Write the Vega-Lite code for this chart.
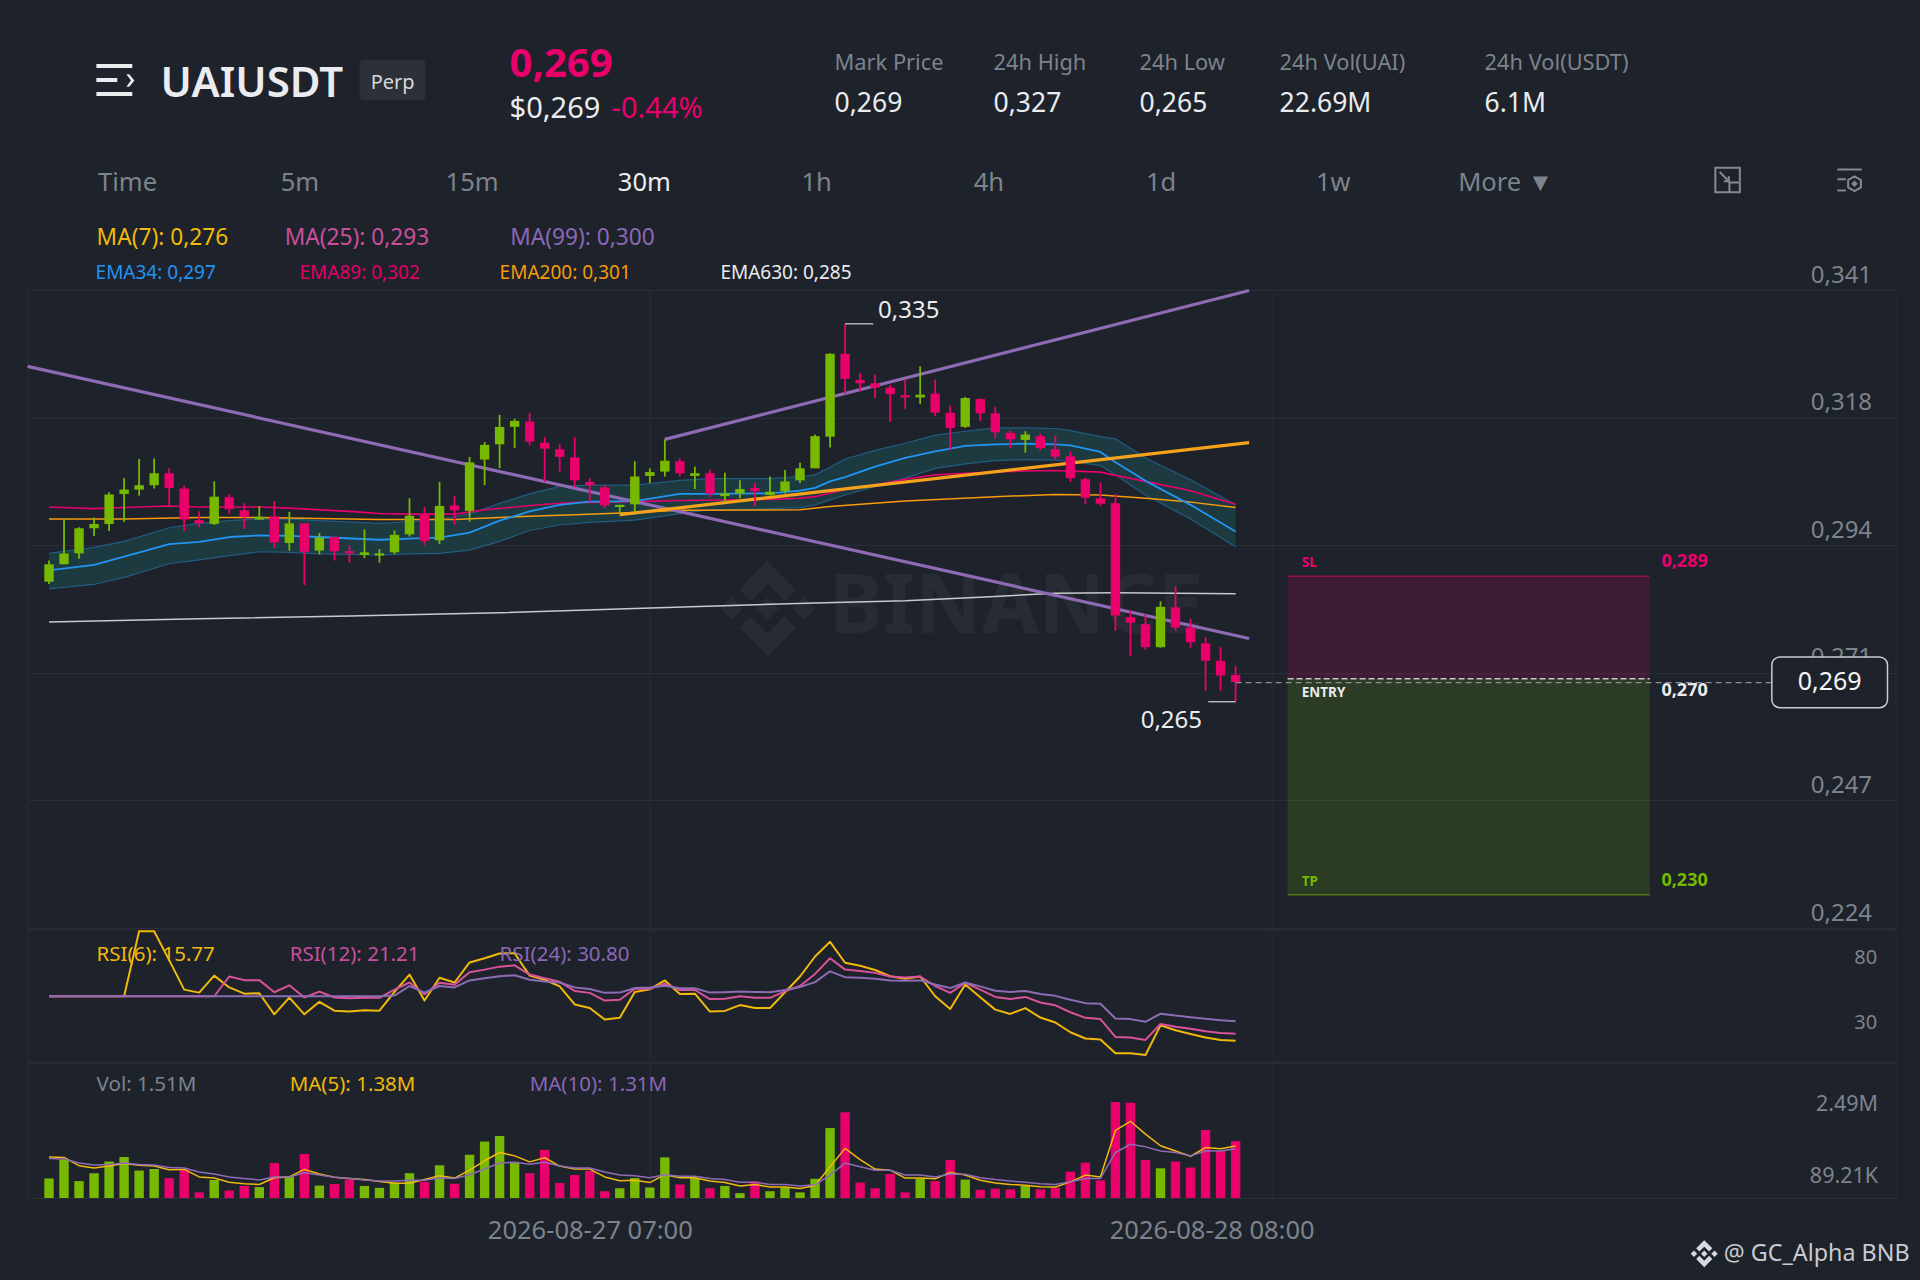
{
  "$schema": "https://vega.github.io/schema/vega-lite/v6.json",
  "background": "#1e222b",
  "padding": {"left": 24.6, "top": 0, "right": 27.4, "bottom": 28},
  "config": {
    "font": "Noto Sans",
    "view": {"stroke": null},
    "scale": {"pointPadding": 0},
    "line": {"strokeJoin": "round"}
  },
  "datasets": {
    "bars": [
      {"i":0,"open":0.2875,"high":0.2914,"low":0.2871,"close":0.2907,"vol":0.52,"ma5":1.09,"ma10":1.05,"rsi6":50,"rsi12":50,"rsi24":50},
      {"i":1,"open":0.2907,"high":0.2990,"low":0.2907,"close":0.2927,"vol":1.03,"ma5":1.08,"ma10":1.04,"rsi6":50,"rsi12":50,"rsi24":50},
      {"i":2,"open":0.2927,"high":0.2975,"low":0.2917,"close":0.2973,"vol":0.45,"ma5":0.86,"ma10":0.93,"rsi6":50,"rsi12":50,"rsi24":50},
      {"i":3,"open":0.2973,"high":0.2993,"low":0.2959,"close":0.2981,"vol":0.66,"ma5":0.80,"ma10":0.88,"rsi6":50,"rsi12":50,"rsi24":50},
      {"i":4,"open":0.2981,"high":0.3039,"low":0.2968,"close":0.3035,"vol":0.97,"ma5":0.85,"ma10":0.89,"rsi6":50,"rsi12":50,"rsi24":50},
      {"i":5,"open":0.3036,"high":0.3065,"low":0.2985,"close":0.3044,"vol":1.09,"ma5":0.92,"ma10":0.93,"rsi6":50,"rsi12":50,"rsi24":50},
      {"i":6,"open":0.3044,"high":0.3100,"low":0.3033,"close":0.3052,"vol":0.73,"ma5":0.87,"ma10":0.89,"rsi6":100,"rsi12":50,"rsi24":50},
      {"i":7,"open":0.3052,"high":0.3101,"low":0.3046,"close":0.3074,"vol":0.77,"ma5":0.85,"ma10":0.88,"rsi6":100,"rsi12":50,"rsi24":50},
      {"i":8,"open":0.3074,"high":0.3083,"low":0.3014,"close":0.3047,"vol":0.53,"ma5":0.75,"ma10":0.81,"rsi6":77.8,"rsi12":50,"rsi24":50},
      {"i":9,"open":0.3046,"high":0.3051,"low":0.2968,"close":0.2989,"vol":0.77,"ma5":0.76,"ma10":0.80,"rsi6":55.1,"rsi12":50,"rsi24":50},
      {"i":10,"open":0.2988,"high":0.3004,"low":0.2975,"close":0.2982,"vol":0.15,"ma5":0.56,"ma10":0.69,"rsi6":52.8,"rsi12":50,"rsi24":50},
      {"i":11,"open":0.2981,"high":0.3059,"low":0.2979,"close":0.3031,"vol":0.48,"ma5":0.53,"ma10":0.64,"rsi6":65.9,"rsi12":50,"rsi24":50},
      {"i":12,"open":0.3030,"high":0.3036,"low":0.2999,"close":0.3008,"vol":0.20,"ma5":0.42,"ma10":0.56,"rsi6":56.8,"rsi12":65.2,"rsi24":50},
      {"i":13,"open":0.3006,"high":0.3019,"low":0.2972,"close":0.2994,"vol":0.32,"ma5":0.38,"ma10":0.52,"rsi6":52.0,"rsi12":62.4,"rsi24":50},
      {"i":14,"open":0.2989,"high":0.3014,"low":0.2989,"close":0.2994,"vol":0.29,"ma5":0.36,"ma10":0.48,"rsi6":52.3,"rsi12":62.4,"rsi24":50},
      {"i":15,"open":0.2995,"high":0.3023,"low":0.2937,"close":0.2947,"vol":0.93,"ma5":0.54,"ma10":0.56,"rsi6":36.1,"rsi12":53.1,"rsi24":50},
      {"i":16,"open":0.2946,"high":0.3003,"low":0.2932,"close":0.2982,"vol":0.57,"ma5":0.56,"ma10":0.56,"rsi6":49.0,"rsi12":58.4,"rsi24":50},
      {"i":17,"open":0.2982,"high":0.2982,"low":0.2869,"close":0.2930,"vol":1.17,"ma5":0.76,"ma10":0.67,"rsi6":36.1,"rsi12":49.0,"rsi24":50},
      {"i":18,"open":0.2932,"high":0.2964,"low":0.2925,"close":0.2956,"vol":0.33,"ma5":0.64,"ma10":0.61,"rsi6":45.7,"rsi12":53.6,"rsi24":50},
      {"i":19,"open":0.2957,"high":0.2957,"low":0.2914,"close":0.2931,"vol":0.37,"ma5":0.55,"ma10":0.55,"rsi6":38.9,"rsi12":49.0,"rsi24":50},
      {"i":20,"open":0.2931,"high":0.2942,"low":0.2910,"close":0.2927,"vol":0.49,"ma5":0.52,"ma10":0.52,"rsi6":38.2,"rsi12":48.5,"rsi24":50},
      {"i":21,"open":0.2924,"high":0.2971,"low":0.2918,"close":0.2929,"vol":0.32,"ma5":0.49,"ma10":0.48,"rsi6":39.2,"rsi12":48.8,"rsi24":50},
      {"i":22,"open":0.2923,"high":0.2935,"low":0.2910,"close":0.2927,"vol":0.27,"ma5":0.44,"ma10":0.45,"rsi6":38.9,"rsi12":48.8,"rsi24":50},
      {"i":23,"open":0.2929,"high":0.2969,"low":0.2926,"close":0.2961,"vol":0.41,"ma5":0.39,"ma10":0.45,"rsi6":53.3,"rsi12":55.1,"rsi24":50.5},
      {"i":24,"open":0.2962,"high":0.3028,"low":0.2958,"close":0.2996,"vol":0.66,"ma5":0.39,"ma10":0.47,"rsi6":66.7,"rsi12":60.6,"rsi24":57.9},
      {"i":25,"open":0.2998,"high":0.3012,"low":0.2942,"close":0.2950,"vol":0.43,"ma5":0.49,"ma10":0.47,"rsi6":46.7,"rsi12":51.5,"rsi24":52.8},
      {"i":26,"open":0.2951,"high":0.3058,"low":0.2944,"close":0.3014,"vol":0.87,"ma5":0.59,"ma10":0.53,"rsi6":64.2,"rsi12":60.4,"rsi24":57.9},
      {"i":27,"open":0.3015,"high":0.3032,"low":0.2979,"close":0.3006,"vol":0.38,"ma5":0.53,"ma10":0.52,"rsi6":60.6,"rsi12":58.9,"rsi24":56.8},
      {"i":28,"open":0.3005,"high":0.3104,"low":0.2985,"close":0.3094,"vol":1.15,"ma5":0.74,"ma10":0.62,"rsi6":76.0,"rsi12":68.5,"rsi24":62.2},
      {"i":29,"open":0.3099,"high":0.3131,"low":0.3052,"close":0.3126,"vol":1.50,"ma5":0.99,"ma10":0.77,"rsi6":79.3,"rsi12":70.5,"rsi24":63.9},
      {"i":30,"open":0.3127,"high":0.3181,"low":0.3083,"close":0.3159,"vol":1.65,"ma5":1.21,"ma10":0.93,"rsi6":82.9,"rsi12":72.8,"rsi24":65.4},
      {"i":31,"open":0.3159,"high":0.3174,"low":0.3120,"close":0.3170,"vol":0.96,"ma5":1.12,"ma10":0.95,"rsi6":83.1,"rsi12":73.8,"rsi24":66.2},
      {"i":32,"open":0.3169,"high":0.3185,"low":0.3125,"close":0.3132,"vol":0.66,"ma5":0.96,"ma10":0.90,"rsi6":65.9,"rsi12":66.7,"rsi24":62.7},
      {"i":33,"open":0.3130,"high":0.3141,"low":0.3058,"close":0.3119,"vol":1.28,"ma5":1.07,"ma10":0.95,"rsi6":62.7,"rsi12":63.9,"rsi24":61.4},
      {"i":34,"open":0.3118,"high":0.3127,"low":0.3077,"close":0.3104,"vol":0.40,"ma5":0.85,"ma10":0.85,"rsi6":57.6,"rsi12":61.1,"rsi24":60.6},
      {"i":35,"open":0.3103,"high":0.3140,"low":0.3048,"close":0.3061,"vol":0.61,"ma5":0.77,"ma10":0.80,"rsi6":43.7,"rsi12":54.1,"rsi24":56.8},
      {"i":36,"open":0.3058,"high":0.3065,"low":0.3021,"close":0.3052,"vol":0.72,"ma5":0.77,"ma10":0.80,"rsi6":40.9,"rsi12":52.6,"rsi24":55.6},
      {"i":37,"open":0.3048,"high":0.3052,"low":0.3010,"close":0.3015,"vol":0.18,"ma5":0.56,"ma10":0.69,"rsi6":32.1,"rsi12":46.7,"rsi24":52.6},
      {"i":38,"open":0.3012,"high":0.3016,"low":0.2998,"close":0.3016,"vol":0.26,"ma5":0.46,"ma10":0.61,"rsi6":33.4,"rsi12":47.3,"rsi24":52.8},
      {"i":39,"open":0.3017,"high":0.3096,"low":0.3004,"close":0.3068,"vol":0.53,"ma5":0.47,"ma10":0.59,"rsi6":53.3,"rsi12":55.8,"rsi24":56.3},
      {"i":40,"open":0.3069,"high":0.3083,"low":0.3056,"close":0.3076,"vol":0.28,"ma5":0.41,"ma10":0.54,"rsi6":55.3,"rsi12":55.8,"rsi24":56.8},
      {"i":41,"open":0.3077,"high":0.3136,"low":0.3068,"close":0.3097,"vol":1.08,"ma5":0.62,"ma10":0.62,"rsi6":62.2,"rsi12":59.6,"rsi24":58.1},
      {"i":42,"open":0.3096,"high":0.3101,"low":0.3068,"close":0.3074,"vol":0.36,"ma5":0.54,"ma10":0.58,"rsi6":51.8,"rsi12":54.8,"rsi24":56.1},
      {"i":43,"open":0.3069,"high":0.3086,"low":0.3045,"close":0.3074,"vol":0.54,"ma5":0.54,"ma10":0.58,"rsi6":52.0,"rsi12":54.8,"rsi24":56.1},
      {"i":44,"open":0.3074,"high":0.3081,"low":0.3030,"close":0.3036,"vol":0.26,"ma5":0.45,"ma10":0.52,"rsi6":38.2,"rsi12":47.8,"rsi24":52.8},
      {"i":45,"open":0.3032,"high":0.3075,"low":0.3021,"close":0.3037,"vol":0.32,"ma5":0.41,"ma10":0.49,"rsi6":38.7,"rsi12":48.0,"rsi24":53.1},
      {"i":46,"open":0.3037,"high":0.3061,"low":0.3028,"close":0.3045,"vol":0.13,"ma5":0.32,"ma10":0.42,"rsi6":43.2,"rsi12":50.0,"rsi24":53.6},
      {"i":47,"open":0.3047,"high":0.3056,"low":0.3014,"close":0.3041,"vol":0.44,"ma5":0.36,"ma10":0.42,"rsi6":40.9,"rsi12":48.8,"rsi24":53.3},
      {"i":48,"open":0.3034,"high":0.3068,"low":0.3033,"close":0.3040,"vol":0.18,"ma5":0.29,"ma10":0.36,"rsi6":40.9,"rsi12":48.8,"rsi24":53.1},
      {"i":49,"open":0.3041,"high":0.3080,"low":0.3037,"close":0.3059,"vol":0.28,"ma5":0.29,"ma10":0.36,"rsi6":53.1,"rsi12":53.8,"rsi24":54.8},
      {"i":50,"open":0.3061,"high":0.3093,"low":0.3056,"close":0.3083,"vol":0.15,"ma5":0.25,"ma10":0.32,"rsi6":65.2,"rsi12":57.9,"rsi24":57.1},
      {"i":51,"open":0.3083,"high":0.3145,"low":0.3083,"close":0.3142,"vol":0.51,"ma5":0.33,"ma10":0.35,"rsi6":80.6,"rsi12":67.2,"rsi24":60.9},
      {"i":52,"open":0.3141,"high":0.3294,"low":0.3121,"close":0.3293,"vol":1.86,"ma5":0.83,"ma10":0.61,"rsi6":91.9,"rsi12":79.3,"rsi24":69.2},
      {"i":53,"open":0.3293,"high":0.3348,"low":0.3220,"close":0.3247,"vol":2.28,"ma5":1.32,"ma10":0.93,"rsi6":75.8,"rsi12":70.5,"rsi24":64.7},
      {"i":54,"open":0.3245,"high":0.3258,"low":0.3224,"close":0.3239,"vol":0.41,"ma5":1.02,"ma10":0.83,"rsi6":73.5,"rsi12":69.5,"rsi24":64.2},
      {"i":55,"open":0.3239,"high":0.3255,"low":0.3212,"close":0.3231,"vol":0.26,"ma5":0.77,"ma10":0.74,"rsi6":70.2,"rsi12":68.0,"rsi24":63.4},
      {"i":56,"open":0.3231,"high":0.3236,"low":0.3168,"close":0.3219,"vol":0.64,"ma5":0.74,"ma10":0.74,"rsi6":65.4,"rsi12":65.2,"rsi24":62.2},
      {"i":57,"open":0.3217,"high":0.3246,"low":0.3192,"close":0.3213,"vol":0.15,"ma5":0.53,"ma10":0.61,"rsi6":63.4,"rsi12":64.4,"rsi24":61.9},
      {"i":58,"open":0.3213,"high":0.3270,"low":0.3201,"close":0.3218,"vol":0.52,"ma5":0.53,"ma10":0.61,"rsi6":65.2,"rsi12":65.2,"rsi24":62.2},
      {"i":59,"open":0.3220,"high":0.3246,"low":0.3179,"close":0.3185,"vol":0.45,"ma5":0.51,"ma10":0.56,"rsi6":50.0,"rsi12":57.9,"rsi24":59.1},
      {"i":60,"open":0.3185,"high":0.3198,"low":0.3117,"close":0.3157,"vol":1.01,"ma5":0.68,"ma10":0.64,"rsi6":40.2,"rsi12":52.6,"rsi24":56.3},
      {"i":61,"open":0.3159,"high":0.3214,"low":0.3157,"close":0.3212,"vol":0.49,"ma5":0.61,"ma10":0.63,"rsi6":59.1,"rsi12":60.4,"rsi24":60.6},
      {"i":62,"open":0.3210,"high":0.3211,"low":0.3170,"close":0.3184,"vol":0.22,"ma5":0.47,"ma10":0.54,"rsi6":49.3,"rsi12":55.1,"rsi24":57.6},
      {"i":63,"open":0.3184,"high":0.3196,"low":0.3138,"close":0.3149,"vol":0.25,"ma5":0.40,"ma10":0.49,"rsi6":39.7,"rsi12":49.5,"rsi24":54.3},
      {"i":64,"open":0.3148,"high":0.3152,"low":0.3120,"close":0.3136,"vol":0.23,"ma5":0.36,"ma10":0.45,"rsi6":36.4,"rsi12":47.8,"rsi24":53.3},
      {"i":65,"open":0.3135,"high":0.3151,"low":0.3112,"close":0.3145,"vol":0.32,"ma5":0.34,"ma10":0.42,"rsi6":40.9,"rsi12":49.5,"rsi24":54.1},
      {"i":66,"open":0.3142,"high":0.3147,"low":0.3116,"close":0.3120,"vol":0.23,"ma5":0.30,"ma10":0.38,"rsi6":33.6,"rsi12":45.2,"rsi24":51.8},
      {"i":67,"open":0.3118,"high":0.3143,"low":0.3099,"close":0.3104,"vol":0.27,"ma5":0.29,"ma10":0.36,"rsi6":29.8,"rsi12":43.0,"rsi24":50.3},
      {"i":68,"open":0.3105,"high":0.3114,"low":0.3058,"close":0.3065,"vol":0.70,"ma5":0.43,"ma10":0.43,"rsi6":22.3,"rsi12":37.7,"rsi24":47.3},
      {"i":69,"open":0.3063,"high":0.3066,"low":0.3017,"close":0.3029,"vol":0.94,"ma5":0.61,"ma10":0.52,"rsi6":17.5,"rsi12":33.4,"rsi24":44.7},
      {"i":70,"open":0.3028,"high":0.3057,"low":0.3014,"close":0.3018,"vol":0.47,"ma5":0.56,"ma10":0.52,"rsi6":16.7,"rsi12":32.4,"rsi24":44.2},
      {"i":71,"open":0.3019,"high":0.3036,"low":0.2785,"close":0.2813,"vol":2.55,"ma5":1.80,"ma10":1.21,"rsi6":6.1,"rsi12":18.7,"rsi24":32.9},
      {"i":72,"open":0.2810,"high":0.2822,"low":0.2738,"close":0.2800,"vol":2.53,"ma5":2.04,"ma10":1.43,"rsi6":6.1,"rsi12":18.2,"rsi24":32.4},
      {"i":73,"open":0.2797,"high":0.2815,"low":0.2750,"close":0.2755,"vol":1.01,"ma5":1.70,"ma10":1.36,"rsi6":4.8,"rsi12":16.4,"rsi24":30.3},
      {"i":74,"open":0.2755,"high":0.2839,"low":0.2754,"close":0.2829,"vol":0.79,"ma5":1.39,"ma10":1.25,"rsi6":27.6,"rsi12":28.6,"rsi24":36.6},
      {"i":75,"open":0.2828,"high":0.2866,"low":0.2785,"close":0.2791,"vol":0.97,"ma5":1.25,"ma10":1.21,"rsi6":23.8,"rsi12":26.5,"rsi24":35.1},
      {"i":76,"open":0.2791,"high":0.2807,"low":0.2754,"close":0.2764,"vol":0.81,"ma5":1.11,"ma10":1.12,"rsi6":21.0,"rsi12":25.0,"rsi24":33.9},
      {"i":77,"open":0.2762,"high":0.2773,"low":0.2675,"close":0.2730,"vol":1.81,"ma5":1.34,"ma10":1.25,"rsi6":18.2,"rsi12":23.0,"rsi24":32.6},
      {"i":78,"open":0.2730,"high":0.2755,"low":0.2675,"close":0.2703,"vol":1.25,"ma5":1.31,"ma10":1.25,"rsi6":16.4,"rsi12":21.8,"rsi24":31.6},
      {"i":79,"open":0.2704,"high":0.2720,"low":0.2655,"close":0.2691,"vol":1.51,"ma5":1.38,"ma10":1.31,"rsi6":15.77,"rsi12":21.21,"rsi24":30.8}
    ],
    "ema34": [
      {"i":0,"upper":0.2927,"ema":0.2896,"lower":0.2862},
      {"i":3,"upper":0.2938,"ema":0.2906,"lower":0.2870},
      {"i":5,"upper":0.2949,"ema":0.2921,"lower":0.2883},
      {"i":8,"upper":0.2974,"ema":0.2944,"lower":0.2908},
      {"i":10,"upper":0.2982,"ema":0.2948,"lower":0.2915},
      {"i":12,"upper":0.2987,"ema":0.2957,"lower":0.2923},
      {"i":14,"upper":0.2990,"ema":0.2960,"lower":0.2930},
      {"i":16,"upper":0.2990,"ema":0.2959,"lower":0.2929},
      {"i":18,"upper":0.2987,"ema":0.2957,"lower":0.2926},
      {"i":22,"upper":0.2982,"ema":0.2952,"lower":0.2924},
      {"i":24,"upper":0.2985,"ema":0.2954,"lower":0.2926},
      {"i":26,"upper":0.2990,"ema":0.2956,"lower":0.2927},
      {"i":28,"upper":0.2999,"ema":0.2965,"lower":0.2933},
      {"i":30,"upper":0.3019,"ema":0.2987,"lower":0.2949},
      {"i":32,"upper":0.3036,"ema":0.3004,"lower":0.2969},
      {"i":34,"upper":0.3050,"ema":0.3016,"lower":0.2979},
      {"i":36,"upper":0.3052,"ema":0.3022,"lower":0.2984},
      {"i":39,"upper":0.3052,"ema":0.3023,"lower":0.2988},
      {"i":42,"upper":0.3061,"ema":0.3036,"lower":0.3000},
      {"i":44,"upper":0.3064,"ema":0.3036,"lower":0.3007},
      {"i":48,"upper":0.3064,"ema":0.3037,"lower":0.3009},
      {"i":50,"upper":0.3068,"ema":0.3042,"lower":0.3011},
      {"i":51,"upper":0.3071,"ema":0.3047,"lower":0.3016},
      {"i":52,"upper":0.3085,"ema":0.3059,"lower":0.3025},
      {"i":53,"upper":0.3100,"ema":0.3067,"lower":0.3034},
      {"i":55,"upper":0.3116,"ema":0.3086,"lower":0.3050},
      {"i":57,"upper":0.3129,"ema":0.3102,"lower":0.3065},
      {"i":59,"upper":0.3144,"ema":0.3114,"lower":0.3083},
      {"i":61,"upper":0.3151,"ema":0.3124,"lower":0.3091},
      {"i":63,"upper":0.3157,"ema":0.3127,"lower":0.3097},
      {"i":65,"upper":0.3157,"ema":0.3128,"lower":0.3099},
      {"i":67,"upper":0.3156,"ema":0.3127,"lower":0.3098},
      {"i":68,"upper":0.3152,"ema":0.3125,"lower":0.3096},
      {"i":70,"upper":0.3141,"ema":0.3113,"lower":0.3088},
      {"i":71,"upper":0.3137,"ema":0.3094,"lower":0.3071},
      {"i":73,"upper":0.3102,"ema":0.3060,"lower":0.3034},
      {"i":76,"upper":0.3062,"ema":0.3016,"lower":0.2990},
      {"i":79,"upper":0.3016,"ema":0.2967,"lower":0.2939}
    ],
    "ema89": [
      {"i":0,"p":0.3012},{"i":3,"p":0.3009},{"i":5,"p":0.3011},{"i":8,"p":0.3014},{"i":10,"p":0.3012},{"i":14,"p":0.3012},{"i":16,"p":0.3010},{"i":20,"p":0.3004},{"i":22,"p":0.3000},{"i":24,"p":0.2999},{"i":27,"p":0.2999},{"i":29,"p":0.3007},{"i":31,"p":0.3012},{"i":33,"p":0.3017},{"i":35,"p":0.3020},{"i":39,"p":0.3022},{"i":42,"p":0.3024},{"i":45,"p":0.3025},{"i":48,"p":0.3026},{"i":50,"p":0.3028},{"i":51,"p":0.3031},{"i":53,"p":0.3044},{"i":55,"p":0.3053},{"i":57,"p":0.3063},{"i":59,"p":0.3071},{"i":61,"p":0.3074},{"i":65,"p":0.3078},{"i":67,"p":0.3079},{"i":70,"p":0.3076},{"i":71,"p":0.3070},{"i":73,"p":0.3059},{"i":76,"p":0.3042},{"i":79,"p":0.3017}
    ],
    "ema200": [
      {"i":0,"p":0.2990},{"i":5,"p":0.2990},{"i":10,"p":0.2993},{"i":14,"p":0.2993},{"i":18,"p":0.2991},{"i":22,"p":0.2989},{"i":27,"p":0.2989},{"i":31,"p":0.2994},{"i":35,"p":0.2998},{"i":39,"p":0.3002},{"i":42,"p":0.3006},{"i":50,"p":0.3007},{"i":52,"p":0.3013},{"i":57,"p":0.3023},{"i":63,"p":0.3031},{"i":67,"p":0.3035},{"i":70,"p":0.3034},{"i":73,"p":0.3028},{"i":76,"p":0.3021},{"i":79,"p":0.3011}
    ],
    "ema630": [
      {"i":0,"p":0.2801},{"i":10,"p":0.2807},{"i":20,"p":0.2812},{"i":30,"p":0.2818},{"i":39,"p":0.2826},{"i":51,"p":0.2836},{"i":57,"p":0.2840},{"i":63,"p":0.2848},{"i":67,"p":0.2854},{"i":71,"p":0.2855},{"i":79,"p":0.2853}
    ],
    "trends": [
      {"line":"down","i":-1.425,"p":0.3270},{"line":"down","i":79.9,"p":0.2771},
      {"line":"up","i":41,"p":0.3136},{"line":"up","i":79.9,"p":0.3409},
      {"line":"base","i":38,"p":0.2998},{"line":"base","i":79.9,"p":0.3130}
    ],
    "zones": [
      {"zone":"SL","start":82.46,"end":106.57,"from":0.2697,"to":0.2885},
      {"zone":"TP","start":82.46,"end":106.57,"from":0.2301,"to":0.2697}
    ],
    "levels": [
      {"zone":"SL","start":82.46,"end":106.57,"level":0.2885,"name":"SL","value":"0,289","i":83.4,"namePrice":0.2910,"valueI":107.35,"valuePrice":0.2912},
      {"zone":"ENTRY","start":82.46,"end":106.57,"level":0.2697,"name":"ENTRY","value":"0,270","i":83.4,"namePrice":0.2671,"valueI":107.35,"valuePrice":0.2675},
      {"zone":"TP","start":82.46,"end":106.57,"level":0.2301,"name":"TP","value":"0,230","i":83.4,"namePrice":0.2324,"valueI":107.35,"valuePrice":0.2326}
    ],
    "extremes": [
      {"text":"0,335","start":53,"end":54.87,"p":0.3348,"labelI":55.2,"labelP":0.3372},
      {"text":"0,265","start":77.18,"end":79,"p":0.2655,"labelI":72.68,"labelP":0.2619}
    ],
    "maLabels": [
      {"label":"MA(7): 0,276","i":3.17,"p":0.3506},
      {"label":"MA(25): 0,293","i":15.69,"p":0.3506},
      {"label":"MA(99): 0,300","i":30.7,"p":0.3506}
    ],
    "emaLabels": [
      {"label":"EMA34: 0,297","i":3.1,"p":0.3441},
      {"label":"EMA89: 0,302","i":16.68,"p":0.3441},
      {"label":"EMA200: 0,301","i":30,"p":0.3441},
      {"label":"EMA630: 0,285","i":44.7,"p":0.3441}
    ]
  },
  "vconcat": [
    {
      "hconcat": [
        {
          "width": 133, "height": 150,
          "data": {"values": [{"name": "menu"}]},
          "mark": {"type": "point", "filled": true, "opacity": 1, "color": "#eaecef", "size": 1444,
            "shape": "M-1,-.84H.89V-.63H-1ZM-1,-.1H.1V.1H-1ZM-1,.63H.89V.84H-1ZM.58,-.3L.73,-.3L1,.02L.73,.35L.58,.35L.82,.02Z"},
          "encoding": {
            "x": {"datum": 0.66, "type": "quantitative", "axis": null, "scale": {"domain": [0, 1]}},
            "y": {"field": "name", "type": "nominal", "axis": null, "scale": {"range": [80, 80]}}
          }
        },
        {
          "width": 199, "height": 150,
          "data": {"values": [{"text": "UAIUSDT"}]},
          "mark": {"type": "text", "align": "left", "fontSize": 42, "fontWeight": 600, "color": "#eaecef"},
          "encoding": {
            "x": {"datum": 0, "type": "quantitative", "axis": null, "scale": {"domain": [0, 1]}},
            "y": {"field": "text", "type": "nominal", "axis": null, "scale": {"range": [84, 84]}},
            "text": {"field": "text"}
          }
        },
        {
          "width": 150, "height": 150,
          "data": {"values": [{"text": "Perp"}]},
          "layer": [
            {
              "mark": {"type": "rect", "color": "#2b3039", "cornerRadius": 4},
              "encoding": {
                "x": {"datum": 0, "type": "quantitative", "axis": null, "scale": {"domain": [0, 1]}},
                "x2": {"datum": 0.44},
                "y": {"datum": 0.6, "type": "quantitative", "axis": null, "scale": {"domain": [0, 1]}},
                "y2": {"datum": 0.333}
              }
            },
            {
              "mark": {"type": "text", "fontSize": 20, "color": "#d5d8dc"},
              "encoding": {
                "x": {"datum": 0.22, "type": "quantitative", "axis": null, "scale": {"domain": [0, 1]}},
                "y": {"datum": 0.447, "type": "quantitative", "axis": null, "scale": {"domain": [0, 1]}},
                "text": {"field": "text"}
              }
            }
          ]
        },
        {
          "width": 102, "height": 150,
          "data": {"values": [{"kind": "last", "text": "0,269"}, {"kind": "usd", "text": "$0,269"}]},
          "encoding": {
            "x": {"datum": 0, "type": "quantitative", "axis": null, "scale": {"domain": [0, 1]}},
            "y": {"field": "kind", "type": "nominal", "axis": null, "scale": {"domain": ["last", "usd"], "range": [64.5, 108.5]}},
            "text": {"field": "text"}
          },
          "layer": [
            {
              "transform": [{"filter": "datum.kind == 'last'"}],
              "mark": {"type": "text", "align": "left", "fontSize": 40, "fontWeight": 700, "color": "#e9006b"}
            },
            {
              "transform": [{"filter": "datum.kind == 'usd'"}],
              "mark": {"type": "text", "align": "left", "fontSize": 29, "color": "#eaecef"}
            }
          ]
        },
        {
          "width": 223, "height": 150,
          "data": {"values": [{"text": "-0.44%"}]},
          "mark": {"type": "text", "align": "left", "fontSize": 29, "color": "#e9006b"},
          "encoding": {
            "x": {"datum": 0, "type": "quantitative", "axis": null, "scale": {"domain": [0, 1]}},
            "y": {"field": "text", "type": "nominal", "axis": null, "scale": {"range": [108.5, 108.5]}},
            "text": {"field": "text"}
          }
        },
        {
          "width": 159, "height": 150,
          "data": {"values": [{"kind": "label", "text": "Mark Price"}, {"kind": "value", "text": "0,269"}]},
          "mark": {"type": "text", "align": "left"},
          "encoding": {
            "x": {"datum": 0, "type": "quantitative", "axis": null, "scale": {"domain": [0, 1]}},
            "y": {"field": "kind", "type": "nominal", "axis": null, "scale": {"domain": ["label", "value"], "range": [63, 104]}},
            "text": {"field": "text"},
            "size": {"field": "kind", "type": "ordinal", "legend": null, "scale": {"domain": ["label", "value"], "range": [21.8, 26.5]}},
            "color": {"field": "kind", "type": "nominal", "legend": null, "scale": {"domain": ["label", "value"], "range": ["#7d838c", "#eaecef"]}}
          }
        },
        {
          "width": 146, "height": 150,
          "data": {"values": [{"kind": "label", "text": "24h High"}, {"kind": "value", "text": "0,327"}]},
          "mark": {"type": "text", "align": "left"},
          "encoding": {
            "x": {"datum": 0, "type": "quantitative", "axis": null, "scale": {"domain": [0, 1]}},
            "y": {"field": "kind", "type": "nominal", "axis": null, "scale": {"domain": ["label", "value"], "range": [63, 104]}},
            "text": {"field": "text"},
            "size": {"field": "kind", "type": "ordinal", "legend": null, "scale": {"domain": ["label", "value"], "range": [21.8, 26.5]}},
            "color": {"field": "kind", "type": "nominal", "legend": null, "scale": {"domain": ["label", "value"], "range": ["#7d838c", "#eaecef"]}}
          }
        },
        {
          "width": 140, "height": 150,
          "data": {"values": [{"kind": "label", "text": "24h Low"}, {"kind": "value", "text": "0,265"}]},
          "mark": {"type": "text", "align": "left"},
          "encoding": {
            "x": {"datum": 0, "type": "quantitative", "axis": null, "scale": {"domain": [0, 1]}},
            "y": {"field": "kind", "type": "nominal", "axis": null, "scale": {"domain": ["label", "value"], "range": [63, 104]}},
            "text": {"field": "text"},
            "size": {"field": "kind", "type": "ordinal", "legend": null, "scale": {"domain": ["label", "value"], "range": [21.8, 26.5]}},
            "color": {"field": "kind", "type": "nominal", "legend": null, "scale": {"domain": ["label", "value"], "range": ["#7d838c", "#eaecef"]}}
          }
        },
        {
          "width": 205, "height": 150,
          "data": {"values": [{"kind": "label", "text": "24h Vol(UAI)"}, {"kind": "value", "text": "22.69M"}]},
          "mark": {"type": "text", "align": "left"},
          "encoding": {
            "x": {"datum": 0, "type": "quantitative", "axis": null, "scale": {"domain": [0, 1]}},
            "y": {"field": "kind", "type": "nominal", "axis": null, "scale": {"domain": ["label", "value"], "range": [63, 104]}},
            "text": {"field": "text"},
            "size": {"field": "kind", "type": "ordinal", "legend": null, "scale": {"domain": ["label", "value"], "range": [21.8, 26.5]}},
            "color": {"field": "kind", "type": "nominal", "legend": null, "scale": {"domain": ["label", "value"], "range": ["#7d838c", "#eaecef"]}}
          }
        },
        {
          "width": 411, "height": 150,
          "data": {"values": [{"kind": "label", "text": "24h Vol(USDT)"}, {"kind": "value", "text": "6.1M"}]},
          "mark": {"type": "text", "align": "left"},
          "encoding": {
            "x": {"datum": 0, "type": "quantitative", "axis": null, "scale": {"domain": [0, 1]}},
            "y": {"field": "kind", "type": "nominal", "axis": null, "scale": {"domain": ["label", "value"], "range": [63, 104]}},
            "text": {"field": "text"},
            "size": {"field": "kind", "type": "ordinal", "legend": null, "scale": {"domain": ["label", "value"], "range": [21.8, 26.5]}},
            "color": {"field": "kind", "type": "nominal", "legend": null, "scale": {"domain": ["label", "value"], "range": ["#7d838c", "#eaecef"]}}
          }
        }
      ],
      "spacing": 0,
      "bounds": "flush",
      "resolve": {"scale": {"color": "independent"}}
    },
    {
      "width": 1868, "height": 76,
      "layer": [
        {
          "data": {"values": [{"label": "Time"}, {"label": "5m"}, {"label": "15m"}, {"label": "30m"}, {"label": "1h"}, {"label": "4h"}, {"label": "1d"}, {"label": "1w"}, {"label": "More ▼"}]},
          "mark": {"type": "text", "fontSize": 25.5},
          "encoding": {
            "x": {"field": "label", "type": "nominal", "sort": null, "axis": null, "scale": {"range": [100, 1478]}},
            "y": {"datum": "row", "type": "nominal", "axis": null, "scale": {"range": [33, 33]}},
            "text": {"field": "label"},
            "color": {"condition": {"test": "datum.label == '30m'", "value": "#eaecef"}, "value": "#7d838c"}
          }
        },
        {
          "data": {"values": [{"icon": "expand"}, {"icon": "settings"}]},
          "mark": {"type": "point", "filled": false, "opacity": 1, "size": 600, "strokeWidth": 2, "color": "#848a92"},
          "encoding": {
            "x": {"field": "icon", "type": "nominal", "axis": null, "scale": {"domain": ["expand", "settings"], "range": [1700, 1822]}},
            "y": {"datum": "row", "type": "nominal", "axis": null, "scale": {"range": [30, 30]}},
            "shape": {"field": "icon", "type": "nominal", "legend": null, "scale": {"domain": ["expand", "settings"], "range": [
              "M.1,1H-1V-1H1V.1M.15,.2H1V1H.15ZM-.65,-.65L.1,.1M.1,-.3V.1H-.3",
              "M-1,-.85H1M-1,-.06H-.3M-1,.85H-.3M.4,-.3L.92,0V.6L.4,.9L-.12,.6V0ZM.4,.15L.55,.3L.4,.45L.25,.3Z"
            ]}}
          }
        }
      ],
      "resolve": {"scale": {"x": "independent", "y": "independent"}}
    },
    {
      "width": 1868, "height": 638,
      "view": {"stroke": "#2a2e37"},
      "layer": [
        {
          "data": {"values": [{"i": 47.84, "p": 0.2826}]},
          "mark": {"type": "point", "filled": true, "opacity": 1, "size": 9025, "color": "#272b34",
            "shape": "M0,-1L.6,-.4L.36,-.16L0,-.52L-.36,-.16L-.6,-.4ZM0,1L.6,.4L.36,.16L0,.52L-.36,.16L-.6,.4ZM-.76,-.24L-.52,0L-.76,.24L-1,0ZM.76,-.24L1,0L.76,.24L.52,0ZM0,-.24L.24,0L0,.24L-.24,0Z"},
          "encoding": {
            "x": {"field": "i", "type": "quantitative", "title": null,
              "scale": {"domain": [-1.425, 122.94], "nice": false, "zero": false, "padding": 0},
              "axis": {"values": [40, 81.4], "grid": true, "gridColor": "#2a2e37", "labels": false, "ticks": false, "domain": false, "title": null}},
            "y": {"field": "p", "type": "quantitative", "title": null,
              "scale": {"domain": [0.224, 0.341], "nice": false, "zero": false},
              "axis": {"orient": "right", "values": [0.224, 0.2474, 0.2708, 0.2942, 0.3176, 0.341], "grid": true, "gridColor": "#2a2e37",
                "ticks": false, "domain": false, "title": null, "labelAlign": "right", "labelBaseline": "bottom", "labelPadding": -24, "labelOffset": -3,
                "labelOverlap": false, "labelBound": false, "labelFlush": false, "labelFontSize": 24, "labelColor": "#7d838c",
                "labelExpr": "replace(format(datum.value, '.3f'), '.', ',')"}}
          }
        },
        {
          "data": {"values": [{"text": "BINANCE", "i": 51.9, "p": 0.2826}]},
          "mark": {"type": "text", "align": "left", "fontSize": 82, "fontWeight": 700, "color": "#272b34"},
          "encoding": {
            "x": {"field": "i", "type": "quantitative"},
            "y": {"field": "p", "type": "quantitative"},
            "text": {"field": "text"}
          }
        },
        {
          "data": {"name": "zones"},
          "mark": {"type": "rect", "opacity": 0.17},
          "encoding": {
            "x": {"field": "start", "type": "quantitative"},
            "x2": {"field": "end"},
            "y": {"field": "from", "type": "quantitative"},
            "y2": {"field": "to"},
            "color": {"field": "zone", "type": "nominal", "legend": null, "scale": {"domain": ["SL", "ENTRY", "TP", "down", "up", "base"], "range": ["#e9006b", "#eaecef", "#76b900", "#8e6cb5", "#8e6cb5", "#f7a21b"]}}
          }
        },
        {
          "data": {"name": "levels"},
          "transform": [{"filter": "datum.zone != 'ENTRY'"}],
          "mark": {"type": "rule", "strokeWidth": 1.5, "opacity": 0.55},
          "encoding": {
            "x": {"field": "start", "type": "quantitative"},
            "x2": {"field": "end"},
            "y": {"field": "level", "type": "quantitative"},
            "color": {"field": "zone", "type": "nominal", "legend": null}
          }
        },
        {
          "data": {"name": "levels"},
          "transform": [{"filter": "datum.zone == 'ENTRY'"}],
          "mark": {"type": "rule", "strokeWidth": 1.6, "strokeDash": [6, 3], "color": "#c5c8cc"},
          "encoding": {
            "x": {"field": "start", "type": "quantitative"},
            "x2": {"field": "end"},
            "y": {"field": "level", "type": "quantitative"}
          }
        },
        {
          "data": {"name": "levels"},
          "mark": {"type": "text", "align": "left", "fontSize": 13.5, "fontWeight": 700},
          "encoding": {
            "x": {"field": "i", "type": "quantitative"},
            "y": {"field": "namePrice", "type": "quantitative"},
            "text": {"field": "name"},
            "color": {"field": "zone", "type": "nominal", "legend": null}
          }
        },
        {
          "data": {"name": "levels"},
          "mark": {"type": "text", "align": "left", "fontSize": 18, "fontWeight": 700},
          "encoding": {
            "x": {"field": "valueI", "type": "quantitative"},
            "y": {"field": "valuePrice", "type": "quantitative"},
            "text": {"field": "value"},
            "color": {"field": "zone", "type": "nominal", "legend": null}
          }
        },
        {
          "data": {"name": "ema34"},
          "mark": {"type": "area", "color": "#1d3a41"},
          "encoding": {
            "x": {"field": "i", "type": "quantitative"},
            "y": {"field": "upper", "type": "quantitative"},
            "y2": {"field": "lower"}
          }
        },
        {
          "data": {"name": "ema34"},
          "mark": {"type": "line", "color": "#235c80", "strokeWidth": 1.2},
          "encoding": {
            "x": {"field": "i", "type": "quantitative"},
            "y": {"field": "upper", "type": "quantitative"}
          }
        },
        {
          "data": {"name": "ema34"},
          "mark": {"type": "line", "color": "#235c80", "strokeWidth": 1.2},
          "encoding": {
            "x": {"field": "i", "type": "quantitative"},
            "y": {"field": "lower", "type": "quantitative"}
          }
        },
        {
          "data": {"name": "ema630"},
          "mark": {"type": "line", "color": "#c8cbcd", "strokeWidth": 1.5},
          "encoding": {
            "x": {"field": "i", "type": "quantitative"},
            "y": {"field": "p", "type": "quantitative"}
          }
        },
        {
          "data": {"name": "ema200"},
          "mark": {"type": "line", "color": "#f79b0b", "strokeWidth": 1.5},
          "encoding": {
            "x": {"field": "i", "type": "quantitative"},
            "y": {"field": "p", "type": "quantitative"}
          }
        },
        {
          "data": {"name": "ema89"},
          "mark": {"type": "line", "color": "#e6006e", "strokeWidth": 1.6},
          "encoding": {
            "x": {"field": "i", "type": "quantitative"},
            "y": {"field": "p", "type": "quantitative"}
          }
        },
        {
          "data": {"name": "ema34"},
          "mark": {"type": "line", "color": "#2195f2", "strokeWidth": 1.8},
          "encoding": {
            "x": {"field": "i", "type": "quantitative"},
            "y": {"field": "ema", "type": "quantitative"}
          }
        },
        {
          "data": {"name": "trends"},
          "mark": {"type": "line", "strokeWidth": 3.2},
          "encoding": {
            "x": {"field": "i", "type": "quantitative"},
            "y": {"field": "p", "type": "quantitative"},
            "detail": {"field": "line"},
            "color": {"field": "line", "type": "nominal", "legend": null}
          }
        },
        {
          "data": {"name": "bars"},
          "mark": {"type": "rule", "strokeWidth": 1.8},
          "encoding": {
            "x": {"field": "i", "type": "quantitative"},
            "y": {"field": "low", "type": "quantitative"},
            "y2": {"field": "high"},
            "color": {"condition": {"test": "datum.close >= datum.open", "value": "#76b900"}, "value": "#e9006b"}
          }
        },
        {
          "data": {"name": "bars"},
          "mark": {"type": "bar", "size": 9.4},
          "encoding": {
            "x": {"field": "i", "type": "quantitative"},
            "y": {"field": "open", "type": "quantitative"},
            "y2": {"field": "close"},
            "color": {"condition": {"test": "datum.close >= datum.open", "value": "#76b900"}, "value": "#e9006b"}
          }
        },
        {
          "data": {"name": "extremes"},
          "mark": {"type": "rule", "strokeWidth": 1.4, "color": "#b9bcc1"},
          "encoding": {
            "x": {"field": "start", "type": "quantitative"},
            "x2": {"field": "end"},
            "y": {"field": "p", "type": "quantitative"}
          }
        },
        {
          "data": {"name": "extremes"},
          "mark": {"type": "text", "align": "left", "fontSize": 24, "color": "#eaecef"},
          "encoding": {
            "x": {"field": "labelI", "type": "quantitative"},
            "y": {"field": "labelP", "type": "quantitative"},
            "text": {"field": "text"}
          }
        },
        {
          "data": {"values": [{"start": 79, "end": 114.7, "p": 0.269}]},
          "mark": {"type": "rule", "strokeWidth": 1.3, "strokeDash": [6, 4], "color": "#8a8f98"},
          "encoding": {
            "x": {"field": "start", "type": "quantitative"},
            "x2": {"field": "end"},
            "y": {"field": "p", "type": "quantitative"}
          }
        },
        {
          "data": {"values": [{"start": 114.7, "end": 122.4, "top": 0.2737, "bottom": 0.2644}]},
          "mark": {"type": "rect", "color": "#1e222b", "stroke": "#c9ccd1", "strokeWidth": 1.5, "cornerRadius": 8},
          "encoding": {
            "x": {"field": "start", "type": "quantitative"},
            "x2": {"field": "end"},
            "y": {"field": "top", "type": "quantitative"},
            "y2": {"field": "bottom"}
          }
        },
        {
          "data": {"values": [{"text": "0,269", "i": 118.55, "p": 0.2692}]},
          "mark": {"type": "text", "fontSize": 25, "color": "#f4f5f6"},
          "encoding": {
            "x": {"field": "i", "type": "quantitative"},
            "y": {"field": "p", "type": "quantitative"},
            "text": {"field": "text"}
          }
        },
        {
          "data": {"name": "maLabels"},
          "mark": {"type": "text", "align": "left", "fontSize": 22.7},
          "encoding": {
            "x": {"field": "i", "type": "quantitative"},
            "y": {"field": "p", "type": "quantitative"},
            "text": {"field": "label"},
            "color": {"condition": [
              {"test": "indexof(datum.label, 'MA(7)') == 0", "value": "#f0b90b"},
              {"test": "indexof(datum.label, 'MA(25)') == 0", "value": "#c94f9d"}
            ], "value": "#8b67b5"}
          }
        },
        {
          "data": {"name": "emaLabels"},
          "mark": {"type": "text", "align": "left", "fontSize": 19},
          "encoding": {
            "x": {"field": "i", "type": "quantitative"},
            "y": {"field": "p", "type": "quantitative"},
            "text": {"field": "label"},
            "color": {"condition": [
              {"test": "indexof(datum.label, 'EMA34') == 0", "value": "#2195f2"},
              {"test": "indexof(datum.label, 'EMA89') == 0", "value": "#e0006a"},
              {"test": "indexof(datum.label, 'EMA200') == 0", "value": "#f59a0a"}
            ], "value": "#eaecef"}
          }
        }
      ]
    },
    {
      "width": 1868, "height": 131.2,
      "view": {"stroke": "#2a2e37"},
      "encoding": {
        "x": {"field": "i", "type": "quantitative", "title": null,
          "scale": {"domain": [-1.425, 122.94], "nice": false, "zero": false, "padding": 0},
          "axis": {"values": [40, 81.4], "grid": true, "gridColor": "#2a2e37", "labels": false, "ticks": false, "domain": false, "title": null}}
      },
      "layer": [
        {
          "data": {"name": "bars"},
          "mark": {"type": "line", "color": "#f0b90b", "strokeWidth": 2},
          "encoding": {
            "y": {"field": "rsi6", "type": "quantitative", "title": null,
              "scale": {"domain": [0, 101], "nice": false},
              "axis": {"orient": "right", "values": [30, 80], "grid": false, "ticks": false, "domain": false, "title": null,
                "labelAlign": "right", "labelPadding": -19, "labelOverlap": false, "labelBound": false, "labelFlush": false,
                "labelFontSize": 20, "labelColor": "#7d838c"}}
          }
        },
        {
          "data": {"name": "bars"},
          "mark": {"type": "line", "color": "#d9539a", "strokeWidth": 2},
          "encoding": {"y": {"field": "rsi12", "type": "quantitative"}}
        },
        {
          "data": {"name": "bars"},
          "mark": {"type": "line", "color": "#8e6cb5", "strokeWidth": 2},
          "encoding": {"y": {"field": "rsi24", "type": "quantitative"}}
        },
        {
          "data": {"values": [
            {"label": "RSI(6): 15.77", "i": 3.17, "rsi": 82},
            {"label": "RSI(12): 21.21", "i": 16.02, "rsi": 82},
            {"label": "RSI(24): 30.80", "i": 30, "rsi": 82}
          ]},
          "mark": {"type": "text", "align": "left", "fontSize": 20.5},
          "encoding": {
            "y": {"field": "rsi", "type": "quantitative"},
            "text": {"field": "label"},
            "color": {"condition": [
              {"test": "indexof(datum.label, 'RSI(6)') == 0", "value": "#f0b90b"},
              {"test": "indexof(datum.label, 'RSI(12)') == 0", "value": "#c94f9d"}
            ], "value": "#8b67b5"}
          }
        }
      ]
    },
    {
      "width": 1868, "height": 135,
      "view": {"stroke": "#2a2e37"},
      "encoding": {
        "x": {"field": "i", "type": "quantitative", "title": null,
          "scale": {"domain": [-1.425, 122.94], "nice": false, "zero": false, "padding": 0},
          "axis": {"values": [40, 81.4], "grid": true, "gridColor": "#2a2e37", "ticks": false, "domain": false, "title": null,
            "labelOffset": -60, "labelPadding": 20, "labelOverlap": false, "labelBound": false, "labelFlush": false, "labelLimit": 400,
            "labelFontSize": 25.5, "labelColor": "#7d838c",
            "labelExpr": "datum.value < 50 ? '2026-08-27 07:00' : '2026-08-28 08:00'"}}
      },
      "layer": [
        {
          "data": {"name": "bars"},
          "mark": {"type": "bar", "size": 9.4},
          "encoding": {
            "y": {"field": "vol", "type": "quantitative", "title": null,
              "scale": {"domain": [0, 3.59], "nice": false},
              "axis": {"orient": "right", "values": [0.08921, 2.49], "grid": false, "ticks": false, "domain": false, "title": null,
                "labelAlign": "right", "labelPadding": -18, "labelOverlap": false, "labelBound": false, "labelFlush": false,
                "labelFontSize": 21.5, "labelColor": "#7d838c",
                "labelOffset": {"condition": {"test": "datum.value < 1", "value": -18}, "value": 0},
                "labelExpr": "datum.value >= 1 ? format(datum.value, '.2f') + 'M' : format(datum.value * 1000, '.2f') + 'K'"}},
            "color": {"condition": {"test": "datum.close >= datum.open", "value": "#76b900"}, "value": "#e9006b"}
          }
        },
        {
          "data": {"name": "bars"},
          "mark": {"type": "line", "color": "#f0b90b", "strokeWidth": 1.5},
          "encoding": {"y": {"field": "ma5", "type": "quantitative"}}
        },
        {
          "data": {"name": "bars"},
          "mark": {"type": "line", "color": "#8e6cb5", "strokeWidth": 1.5},
          "encoding": {"y": {"field": "ma10", "type": "quantitative"}}
        },
        {
          "data": {"values": [
            {"label": "Vol: 1.51M", "i": 3.17, "vol": 3.0},
            {"label": "MA(5): 1.38M", "i": 16.02, "vol": 3.0},
            {"label": "MA(10): 1.31M", "i": 32, "vol": 3.0}
          ]},
          "mark": {"type": "text", "align": "left", "fontSize": 20.5},
          "encoding": {
            "y": {"field": "vol", "type": "quantitative"},
            "text": {"field": "label"},
            "color": {"condition": [
              {"test": "indexof(datum.label, 'Vol') == 0", "value": "#7d838c"},
              {"test": "indexof(datum.label, 'MA(5)') == 0", "value": "#f0b90b"}
            ], "value": "#8b67b5"}
          }
        },
        {
          "data": {"values": [{"i": 110.2, "vol": -1.48}]},
          "mark": {"type": "point", "filled": true, "opacity": 1, "size": 729, "color": "#d5d8dc",
            "shape": "M0,-1L.6,-.4L.36,-.16L0,-.52L-.36,-.16L-.6,-.4ZM0,1L.6,.4L.36,.16L0,.52L-.36,.16L-.6,.4ZM-.76,-.24L-.52,0L-.76,.24L-1,0ZM.76,-.24L1,0L.76,.24L.52,0ZM0,-.24L.24,0L0,.24L-.24,0Z"},
          "encoding": {"y": {"field": "vol", "type": "quantitative"}}
        },
        {
          "data": {"values": [{"text": "@ GC_Alpha BNB", "i": 111.5, "vol": -1.48}]},
          "mark": {"type": "text", "align": "left", "fontSize": 23.3, "color": "#c8cbd0"},
          "encoding": {
            "y": {"field": "vol", "type": "quantitative"},
            "text": {"field": "text"}
          }
        }
      ]
    }
  ],
  "spacing": 0,
  "resolve": {"scale": {"color": "independent", "shape": "independent"}}
}
